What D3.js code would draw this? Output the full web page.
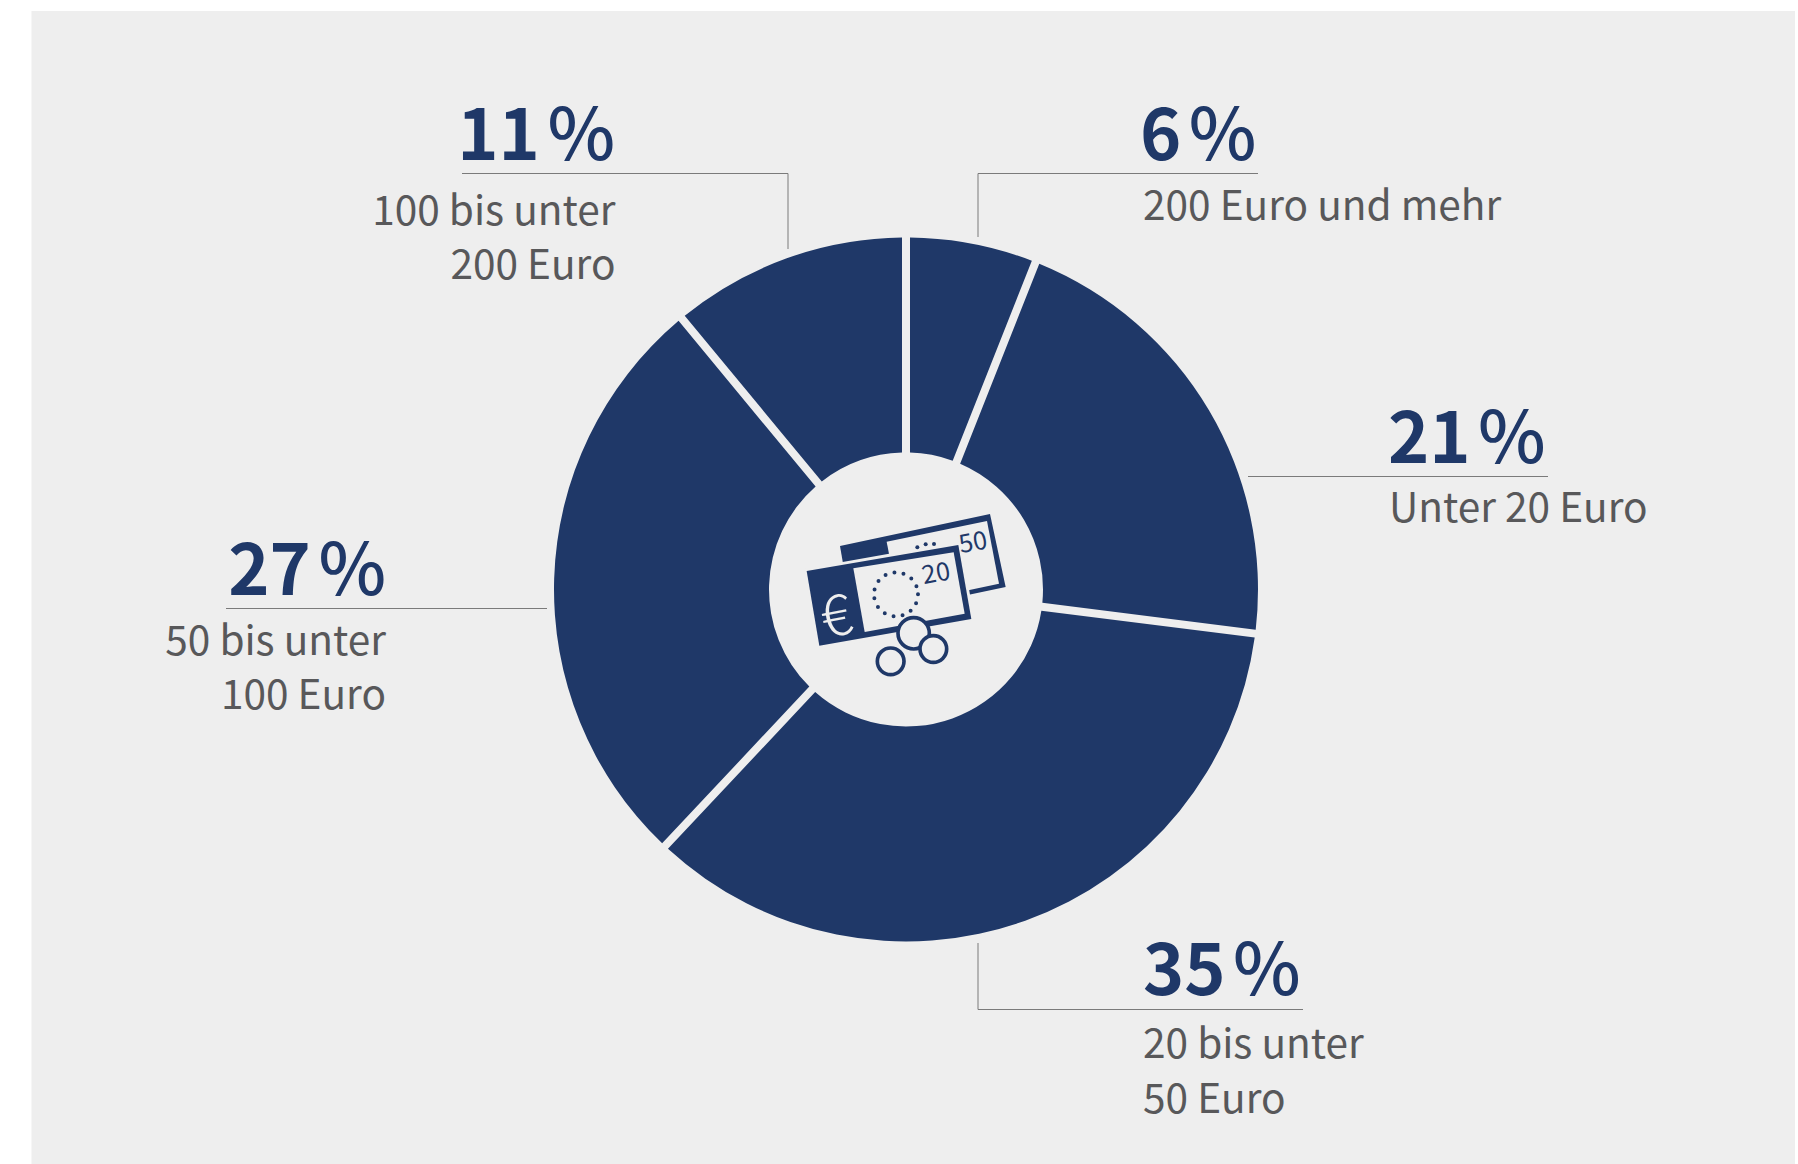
<!DOCTYPE html>
<html><head><meta charset="utf-8">
<script src="https://cdn.jsdelivr.net/npm/d3@7/dist/d3.min.js"></script>
<style>html,body{margin:0;padding:0;background:#fff}svg{display:block}
text{font-family:"Noto Sans CJK SC","Noto Sans",sans-serif}</style></head>
<body><svg id="c" width="1798" height="1164"></svg>
<script>
const categories=["200 Euro und mehr","Unter 20 Euro","20 bis unter 50 Euro","50 bis unter 100 Euro","100 bis unter 200 Euro"];
const shares=[6,21,35,27,11];
const shareLabels=["6","21","35","27","11"];
const labelLines=[["200 Euro und mehr"],["Unter 20 Euro"],["20 bis unter","50 Euro"],["50 bis unter","100 Euro"],["100 bis unter","200 Euro"]];
const NAVY="#1f3868",GREY="#58585a",BG="#eeeeee",RULE="#7a7a7a";
const cx=906,cy=589.5,R=352,r=137;
const layout=[
 {a:"start",x:1140,tx:1143,py:160,ty:[220],leader:[[978,237],[978,173.5],[1258,173.5]]},
 {a:"start",x:1388,tx:1389,py:463,ty:[522],leader:[[1248,476.5],[1548,476.5]]},
 {a:"start",x:1143,tx:1143,py:995,ty:[1058,1113],leader:[[978,943],[978,1009.5],[1303,1009.5]]},
 {a:"end",x:386,tx:386,py:595,ty:[655,709],leader:[[547,608.5],[226,608.5]]},
 {a:"end",x:615,tx:615.5,py:160,ty:[225,279],leader:[[788,249],[788,173.5],[462,173.5]]}
];
const svg=d3.select("#c");
svg.append("rect").attr("x",31.5).attr("y",11).attr("width",1763.5).attr("height",1153).attr("fill",BG);
const pie=d3.pie().sort(null).value(d=>d)(shares);
const arc=d3.arc().innerRadius(r).outerRadius(R).padAngle(8/R).padRadius(R);
const g=svg.append("g").attr("transform",`translate(${cx},${cy})`);
g.selectAll("path").data(pie).join("path").attr("d",arc).attr("fill",NAVY);
const line=d3.line();
svg.append("g").selectAll("path").data(layout).join("path").attr("d",d=>line(d.leader))
 .attr("fill","none").attr("stroke",RULE).attr("stroke-width",1);
layout.forEach((l,i)=>{
 const t=svg.append("text").attr("x",l.x).attr("y",l.py).attr("text-anchor",l.a).attr("fill",NAVY).attr("font-size",70);
 t.append("tspan").attr("font-weight",700).text(shareLabels[i]);
 t.append("tspan").attr("font-weight",500).attr("font-size",72).attr("dx",3).text("\u200a%");
 labelLines[i].forEach((s,j)=>svg.append("text").attr("x",l.tx).attr("y",l.ty[j]).attr("text-anchor",l.a)
   .attr("fill",GREY).attr("font-size",40.6).text(s));
});
const ic=svg.append("g").attr("transform","translate(740,440) scale(0.33333)");
const poly=(pts,f)=>ic.append("polygon").attr("points",pts).attr("fill",f);
poly("300,318 750,222 797,441 338,538",NAVY);
poly("440,305 741,243 777,431 476,495",BG);
poly("190,387 662,303 704,545 240,628",BG);
poly("200,393 655,315 694,537 238,617",NAVY);
poly("340,385 641,337 674,521 374,576",BG);
ic.append("circle").attr("cx",468).attr("cy",463).attr("r",66).attr("fill","none").attr("stroke",NAVY)
 .attr("stroke-width",12).attr("stroke-linecap","round").attr("stroke-dasharray","0 27.65");
[[532,322],[557,313],[582,312]].forEach(p=>ic.append("circle").attr("cx",p[0]).attr("cy",p[1]).attr("r",6).attr("fill",NAVY));
const it=(s,x,y,fs,rot,f)=>ic.append("text").attr("transform",`translate(${x},${y}) rotate(${rot})`).attr("text-anchor","middle").attr("font-size",fs).attr("fill",f).text(s);
it("20",593,425,76,-11,NAVY);
it("50",704,332,76,-11,NAVY);
it("€",300,586,170,-11,BG).attr("font-weight",300);
[[521,580,47],[580,627,40],[452,664,40]].forEach(c=>ic.append("circle").attr("cx",c[0]).attr("cy",c[1]).attr("r",c[2]).attr("fill",BG).attr("stroke",NAVY).attr("stroke-width",11));
</script></body></html>
